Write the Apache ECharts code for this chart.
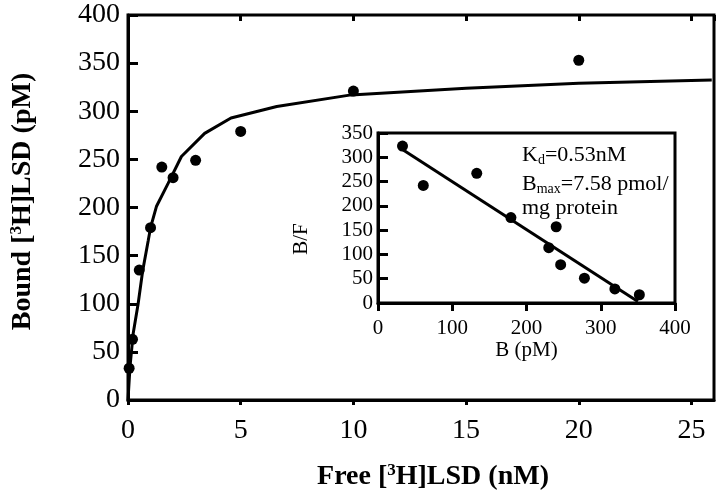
<!DOCTYPE html>
<html><head><meta charset="utf-8">
<script src="https://cdn.jsdelivr.net/npm/echarts@6/dist/echarts.min.js"></script>
<style>html,body{margin:0;padding:0;background:#fff}#c{width:720px;height:499px}</style>
</head><body><div id="c"></div>
<script>
// Main saturation plot
const freeNM  = [0.05, 0.2, 0.5, 1, 1.5, 2, 3, 5, 10, 20];
const boundPM = [33, 63, 135, 179, 242, 231, 249, 279, 321, 353];
// Fitted saturation curve
const curveX = [0, 0.09, 0.23, 0.45, 0.65, 0.9, 1.0, 1.26, 1.78, 2.37, 3.4, 4.57, 6.6, 9.9, 15, 20, 25.9];
const curveY = [0, 35, 69, 100, 134, 166, 179, 201, 225, 253, 277, 293, 305, 317, 324, 329, 332.5];
// Scatchard inset
const scatB  = [33, 61, 133, 179, 240, 230, 246, 278, 319, 352];
const scatBF = [323, 242, 267, 176, 157, 114, 79, 51, 29, 17];
const fitB  = [34, 350];
const fitBF = [315, 3];
// Axis ticks
const mainXTicks = [0, 5, 10, 15, 20, 25];
const mainYTicks = [0, 50, 100, 150, 200, 250, 300, 350, 400];
const insetXTicks = [0, 100, 200, 300, 400];
const insetYTicks = [0, 50, 100, 150, 200, 250, 300, 350];
const kdText = ['K', 'd', '=0.53nM'];
const bmaxText = ['B', 'max', '=7.58 pmol/'];
const line3 = 'mg protein';

const FF = 'Liberation Serif';
const black = '#000';
const zip = (a, b) => a.map((v, i) => [v, b[i]]);

const chart = echarts.init(document.getElementById('c'), null, {renderer: 'canvas'});
const axLine = {show: true, lineStyle: {color: black, width: 3}};
const noSplit = {show: false};

chart.setOption({
  animation: false,
  backgroundColor: '#fff',
  grid: [
    {left: 123, right: 6, top: 15, bottom: 99, show: true, borderColor: black, borderWidth: 3, backgroundColor: 'transparent'},
    {left: 378, top: 133, width: 297, height: 170, show: true, borderColor: black, borderWidth: 3, backgroundColor: '#fff', z: 5}
  ],
  xAxis: [
    {type: 'value', gridIndex: 0, min: 0, max: 26, interval: 5,
     axisLine: axLine, splitLine: noSplit,
     axisTick: {show: true, inside: false, length: 5, lineStyle: {color: black, width: 3}},
     axisLabel: {fontFamily: FF, fontSize: 28, color: black, margin: 17, showMaxLabel: false,
       formatter: v => mainXTicks.includes(v) ? String(v) : ''},
     name: '{b|Free [}{s|3}{b|H]LSD (nM)}', nameLocation: 'middle', nameGap: 62,
     nameTextStyle: {padding: [0, 0, 0, 24], rich: {
       b: {fontFamily: FF, fontWeight: 'bold', fontSize: 28, color: black, lineHeight: 30},
       s: {fontFamily: FF, fontWeight: 'bold', fontSize: 17, color: black, verticalAlign: 'top'}}}},
    {type: 'value', gridIndex: 0, min: 0, max: 26, interval: 5,
     axisLine: {show: false}, splitLine: noSplit, axisLabel: {show: false},
     axisTick: {show: true, inside: true, length: 6, lineStyle: {color: black, width: 3}}},
    {type: 'value', gridIndex: 1, min: 0, max: 400, interval: 100,
     axisLine: axLine, splitLine: noSplit,
     axisTick: {show: true, inside: false, length: 8, lineStyle: {color: black, width: 3}},
     axisLabel: {fontFamily: FF, fontSize: 21, color: black, margin: 15,
       formatter: v => insetXTicks.includes(v) ? String(v) : ''},
     name: 'B (pM)', nameLocation: 'middle', nameGap: 32,
     nameTextStyle: {fontFamily: FF, fontSize: 21, color: black}, z: 6}
  ],
  yAxis: [
    {type: 'value', gridIndex: 0, min: 0, max: 400, interval: 50,
     axisLine: axLine, splitLine: noSplit,
     axisTick: {show: true, inside: true, length: 10, lineStyle: {color: black, width: 3}},
     axisLabel: {fontFamily: FF, fontSize: 28, color: black, margin: 8,
       formatter: v => mainYTicks.includes(v) ? String(v) : ''},
     name: '{b|Bound [}{s|3}{b|H]LSD (pM)}', nameLocation: 'middle', nameGap: 90,
     nameTextStyle: {padding: [0, 0, 0, 12], rich: {
       b: {fontFamily: FF, fontWeight: 'bold', fontSize: 28, color: black, lineHeight: 30},
       s: {fontFamily: FF, fontWeight: 'bold', fontSize: 17, color: black, verticalAlign: 'top'}}}},
    {type: 'value', gridIndex: 1, min: 0, max: 350, interval: 50,
     axisLine: axLine, splitLine: noSplit,
     axisTick: {show: true, inside: true, length: 10, lineStyle: {color: black, width: 3}},
     axisLabel: {fontFamily: FF, fontSize: 21, color: black, margin: 5,
       formatter: v => insetYTicks.includes(v) ? String(v) : ''},
     name: 'B/F', nameLocation: 'middle', nameGap: 66,
     nameTextStyle: {fontFamily: FF, fontSize: 21, color: black, padding: [0, 42, 0, 0]}, z: 6}
  ],
  series: [
    {type: 'line', xAxisIndex: 0, yAxisIndex: 0, data: zip(curveX, curveY), showSymbol: false,
     symbol: 'none', lineStyle: {color: black, width: 3}, z: 3},
    {type: 'scatter', xAxisIndex: 0, yAxisIndex: 0, data: zip(freeNM, boundPM), symbolSize: 11,
     itemStyle: {color: black, opacity: 1}, z: 4},
    {type: 'line', xAxisIndex: 2, yAxisIndex: 1, data: zip(fitB, fitBF), symbol: 'none',
     lineStyle: {color: black, width: 3}, z: 7},
    {type: 'scatter', xAxisIndex: 2, yAxisIndex: 1, data: zip(scatB, scatBF), symbolSize: 11,
     itemStyle: {color: black, opacity: 1}, z: 8}
  ],
  graphic: [
    {type: 'text', x: 522, y: 155, z: 100, style: {
      text: '{n|' + kdText[0] + '}{s|' + kdText[1] + '}{n|' + kdText[2] + '}',
      verticalAlign: 'middle', align: 'left',
      rich: {n: {fontFamily: FF, fontSize: 22, fill: black, lineHeight: 24},
             s: {fontFamily: FF, fontSize: 14, fill: black, verticalAlign: 'bottom'}}}},
    {type: 'text', x: 522, y: 184, z: 100, style: {
      text: '{n|' + bmaxText[0] + '}{s|' + bmaxText[1] + '}{n|' + bmaxText[2] + '}',
      verticalAlign: 'middle', align: 'left',
      rich: {n: {fontFamily: FF, fontSize: 22, fill: black, lineHeight: 24},
             s: {fontFamily: FF, fontSize: 14, fill: black, verticalAlign: 'bottom'}}}},
    {type: 'text', x: 522, y: 208, z: 100, style: {
      text: line3, verticalAlign: 'middle', align: 'left',
      fontFamily: FF, fontSize: 22, fill: black}}
  ]
});
</script></body></html>
